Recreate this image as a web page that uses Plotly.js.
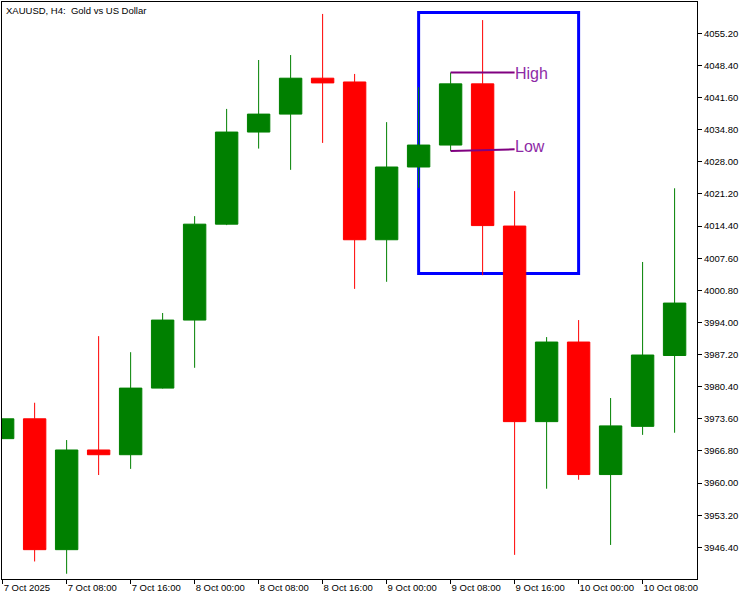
<!DOCTYPE html>
<html>
<head>
<meta charset="utf-8">
<script src="https://cdn.plot.ly/plotly-3.0.1.min.js"></script>
<style>
  html, body { margin: 0; padding: 0; background: #ffffff; }
  #chart { width: 750px; height: 600px; }
</style>
</head>
<body>
<div id="chart"></div>
<script>
// H4 candle times (categories)
const times = [
  "2025.10.07 00:00", "2025.10.07 04:00", "2025.10.07 08:00", "2025.10.07 12:00",
  "2025.10.07 16:00", "2025.10.07 20:00", "2025.10.08 00:00", "2025.10.08 04:00",
  "2025.10.08 08:00", "2025.10.08 12:00", "2025.10.08 16:00", "2025.10.08 20:00",
  "2025.10.09 00:00", "2025.10.09 04:00", "2025.10.09 08:00", "2025.10.09 12:00",
  "2025.10.09 16:00", "2025.10.09 20:00", "2025.10.10 00:00", "2025.10.10 04:00",
  "2025.10.10 08:00", "2025.10.10 12:00"
];
const openPrices = [
  3969.4, 3973.6, 3945.9, 3967.0, 3966.0, 3980.1, 3994.5, 4014.8, 4034.3, 4038.1, 4045.7,
  4044.9, 4011.5, 4026.9, 4031.55, 4044.5, 4014.4, 3973.0, 3989.85, 3961.8, 3972.0, 3987.0
];
const highPrices = [
  3973.6, 3977.0, 3969.1, 3991.1, 3987.7, 3996.0, 4016.5, 4039.2, 4049.55, 4050.6, 4059.3,
  4046.6, 4036.4, 4043.8, 4046.9, 4058.0, 4021.8, 3990.9, 3994.5, 3978.0, 4006.8, 4022.4
];
const lowPrices = [
  3969.4, 3943.4, 3940.8, 3961.7, 3963.0, 3980.0, 3984.4, 4014.6, 4030.8, 4026.3, 4032.0,
  4001.1, 4002.6, 4022.5, 4030.3, 4004.0, 3944.8, 3958.8, 3960.7, 3946.9, 3970.2, 3970.65
];
const closePrices = [
  3973.6, 3945.9, 3967.0, 3966.0, 3980.1, 3994.5, 4014.8, 4034.3, 4038.1, 4045.7, 4044.7,
  4011.5, 4026.9, 4031.55, 4044.5, 4014.5, 3973.0, 3989.85, 3961.8, 3972.1, 3987.1, 3998.1
];

// x-axis tick labels (every 8 hours)
const tickTimes = [
  "2025.10.07 00:00", "2025.10.07 08:00", "2025.10.07 16:00", "2025.10.08 00:00",
  "2025.10.08 08:00", "2025.10.08 16:00", "2025.10.09 00:00", "2025.10.09 08:00",
  "2025.10.09 16:00", "2025.10.10 00:00", "2025.10.10 08:00"
];
const tickLabels = [
  "7 Oct 2025", "7 Oct 08:00", "7 Oct 16:00", "8 Oct 00:00", "8 Oct 08:00", "8 Oct 16:00",
  "9 Oct 00:00", "9 Oct 08:00", "9 Oct 16:00", "10 Oct 00:00", "10 Oct 08:00"
];

// Marked objects
const boxStart = "2025.10.09 04:00";
const boxEnd = "2025.10.10 00:00";
const boxTop = 4059.6;
const boxBottom = 4004.36;
const markStart = "2025.10.09 08:00";
const markEnd = "2025.10.09 16:00";
const highLevel = 4046.9;
const lowLevelStart = 4030.3;
const lowLevelEnd = 4030.65;

const baseFont = { family: "Liberation Sans, Arial, sans-serif", size: 9.5, color: "#000000" };

const trace = {
  type: "candlestick",
  x: times,
  open: openPrices,
  high: highPrices,
  low: lowPrices,
  close: closePrices,
  increasing: { line: { color: "#008000", width: 1 }, fillcolor: "#008000" },
  decreasing: { line: { color: "#FF0000", width: 1 }, fillcolor: "#FF0000" },
  whiskerwidth: 0,
  hoverinfo: "skip",
  showlegend: false
};

const purple = "#800080";
const labelColor = "#8E2AA6";

const layout = {
  width: 750,
  height: 600,
  margin: { l: 2, r: 53, t: 2, b: 21, pad: 0 },
  paper_bgcolor: "#ffffff",
  plot_bgcolor: "#ffffff",
  font: baseFont,
  showlegend: false,
  boxgap: 0.3,
  boxgroupgap: 0,
  xaxis: {
    type: "category",
    range: [-0.02, 21.7],
    rangeslider: { visible: false },
    showgrid: false,
    zeroline: false,
    showline: true,
    mirror: true,
    linecolor: "#000000",
    linewidth: 1,
    ticks: "outside",
    ticklen: 4,
    tickwidth: 1,
    tickcolor: "#000000",
    tickmode: "array",
    tickvals: tickTimes,
    ticktext: tickLabels,
    ticklabelposition: "outside right",
    tickfont: baseFont,
    fixedrange: true
  },
  yaxis: {
    side: "right",
    range: [3939.69, 4061.83],
    showgrid: false,
    zeroline: false,
    showline: true,
    mirror: true,
    linecolor: "#000000",
    linewidth: 1,
    ticks: "outside",
    ticklen: 4,
    tickwidth: 1,
    tickcolor: "#000000",
    tick0: 3946.4,
    dtick: 6.8,
    tickformat: ".2f",
    tickfont: baseFont,
    fixedrange: true
  },
  shapes: [
    {
      type: "rect", layer: "below", xref: "x", yref: "y",
      x0: boxStart, x1: boxEnd, y0: boxBottom, y1: boxTop,
      line: { color: "#0000FF", width: 3 }, fillcolor: "rgba(0,0,0,0)"
    },
    {
      type: "line", layer: "above", xref: "x", yref: "y",
      x0: markStart, x1: markEnd, y0: highLevel, y1: highLevel,
      line: { color: purple, width: 2 }
    },
    {
      type: "line", layer: "above", xref: "x", yref: "y",
      x0: markStart, x1: markEnd, y0: lowLevelStart, y1: lowLevelEnd,
      line: { color: purple, width: 2 }
    }
  ],
  annotations: [
    {
      text: "XAUUSD, H4:  Gold vs US Dollar",
      xref: "paper", yref: "paper", x: 0, y: 1,
      xanchor: "left", yanchor: "top",
      xshift: 2, yshift: -1,
      showarrow: false,
      font: baseFont
    },
    {
      text: "High",
      xref: "x", yref: "y", x: markEnd, y: highLevel,
      xanchor: "left", yanchor: "middle", xshift: -2, yshift: -1,
      showarrow: false,
      font: { family: "Liberation Sans, Arial, sans-serif", size: 16, color: labelColor }
    },
    {
      text: "Low",
      xref: "x", yref: "y", x: markEnd, y: lowLevelEnd,
      xanchor: "left", yanchor: "middle", xshift: -2, yshift: 3,
      showarrow: false,
      font: { family: "Liberation Sans, Arial, sans-serif", size: 16, color: labelColor }
    }
  ]
};

Plotly.newPlot("chart", [trace], layout, { staticPlot: true, displayModeBar: false });
</script>
</body>
</html>
